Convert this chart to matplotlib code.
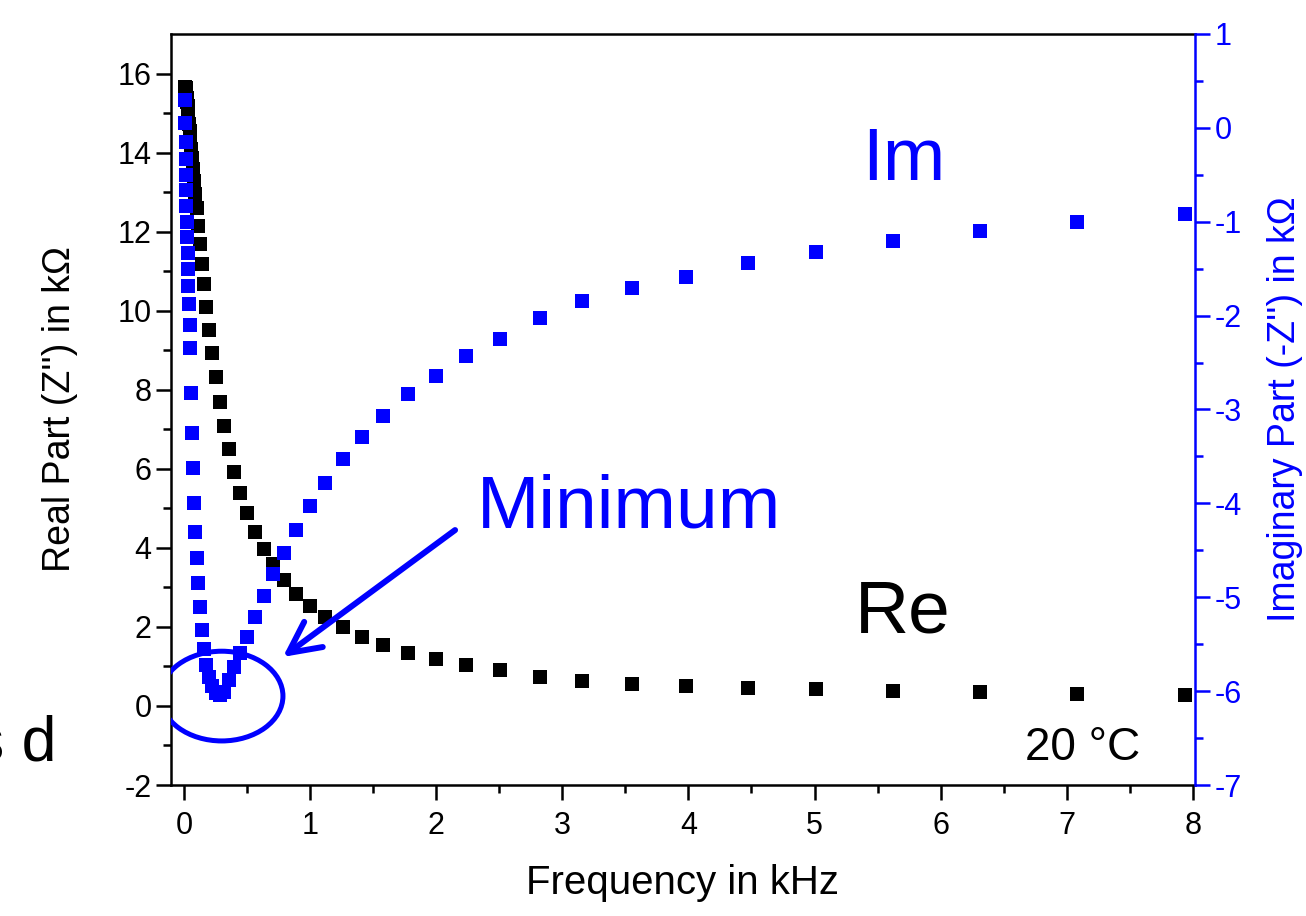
import numpy as np
import matplotlib
matplotlib.use("Agg")
import matplotlib.pyplot as plt
from matplotlib.patches import Ellipse

plt.rcParams['font.family'] = ['Liberation Sans', 'DejaVu Sans']
plt.rcParams['axes.unicode_minus'] = False

BLUE = '#0000FF'

# impedance sweep, 20 points per decade
freq_khz = [0.0100, 0.0112, 0.0126, 0.0141, 0.0158, 0.0178, 0.0200, 0.0224, 0.0251, 0.0282,
            0.0316, 0.0355, 0.0398, 0.0447, 0.0501, 0.0562, 0.0631, 0.0708, 0.0794, 0.0891,
            0.100, 0.112, 0.126, 0.141, 0.158, 0.178, 0.200, 0.224, 0.251, 0.282,
            0.316, 0.355, 0.398, 0.447, 0.501, 0.562, 0.631, 0.708, 0.794, 0.891,
            1.00, 1.12, 1.26, 1.41, 1.58, 1.78, 2.00, 2.24, 2.51, 2.82,
            3.16, 3.55, 3.98, 4.47, 5.01, 5.62, 6.31, 7.08, 7.94]

re_kohm = [15.67, 15.65, 15.63, 15.60, 15.57, 15.52, 15.46, 15.38, 15.29, 15.18,
           15.05, 14.90, 14.73, 14.54, 14.33, 14.10, 13.85, 13.58, 13.28, 12.95,
           12.60, 12.15, 11.68, 11.17, 10.67, 10.09, 9.50, 8.92, 8.31, 7.69,
           7.08, 6.49, 5.92, 5.39, 4.87, 4.39, 3.97, 3.58, 3.19, 2.83,
           2.52, 2.24, 1.99, 1.75, 1.53, 1.35, 1.18, 1.04, 0.91, 0.74,
           0.63, 0.56, 0.51, 0.46, 0.42, 0.38, 0.35, 0.31, 0.28]

im_kohm = [0.30, 0.05, -0.15, -0.33, -0.50, -0.66, -0.83, -1.00, -1.16, -1.33,
           -1.50, -1.68, -1.88, -2.10, -2.35, -2.82, -3.25, -3.62, -4.00, -4.30,
           -4.58, -4.85, -5.10, -5.35, -5.55, -5.72, -5.85, -5.95, -6.02, -6.04,
           -6.01, -5.88, -5.74, -5.59, -5.42, -5.21, -4.99, -4.75, -4.53, -4.28,
           -4.03, -3.78, -3.53, -3.29, -3.07, -2.84, -2.64, -2.43, -2.25, -2.03,
           -1.84, -1.71, -1.59, -1.44, -1.32, -1.21, -1.10, -1.00, -0.92]

fig = plt.figure(figsize=(13.06, 9.16), dpi=100)
ax = fig.add_axes([0.1309, 0.1430, 0.7841, 0.8199])
ax2 = ax.twinx()

ax.plot(freq_khz, re_kohm, 's', color='black', ms=10, mew=0)
ax2.plot(freq_khz, im_kohm, 's', color=BLUE, ms=10, mew=0)

ax.set_xlim(-0.103, 8.017)
ax.set_ylim(-2, 17)
ax2.set_ylim(-7, 1)

ax.set_xticks(np.arange(0, 9, 1))
ax.set_xticks(np.arange(0.5, 8, 1), minor=True)
ax.set_yticks(np.arange(-2, 17, 2))
ax.set_yticks(np.arange(-1, 17, 2), minor=True)
ax2.set_yticks(np.arange(-7, 2, 1))
ax2.set_yticks(np.arange(-6.5, 1, 1), minor=True)

for a in (ax, ax2):
    for s in a.spines.values():
        s.set_linewidth(1.8)
ax.spines['right'].set_visible(False)
ax2.spines['left'].set_visible(False)
ax2.spines['top'].set_visible(False)
ax2.spines['bottom'].set_visible(False)
ax2.spines['right'].set_color(BLUE)

ax.tick_params(axis='both', which='major', direction='out', length=11, width=1.8, labelsize=22)
ax.tick_params(axis='both', which='minor', direction='out', length=5.5, width=1.8)
ax.tick_params(axis='y', pad=3)
ax.tick_params(axis='x', pad=8)
ax2.tick_params(axis='y', which='major', direction='out', length=11, width=1.8,
                labelsize=22, colors=BLUE, pad=3)
ax2.tick_params(axis='y', which='minor', direction='out', length=5.5, width=1.8, colors=BLUE)

ax.set_xlabel('Frequency in kHz', fontsize=29)
ax.xaxis.set_label_coords(0.5, -0.105)
ax.set_ylabel("Real Part (Z'') in k\u03a9", fontsize=27)
ax.yaxis.set_label_coords(-0.091, 0.5)
ax2.set_ylabel("Imaginary Part (-Z'') in k\u03a9", fontsize=27, color=BLUE)
ax2.yaxis.set_label_coords(1.070, 0.5)

# annotations
ax.text(5.38, 13.3, 'Im', color=BLUE, fontsize=54, ha='left', va='baseline')
ax.text(5.32, 1.85, 'Re', color='black', fontsize=54, ha='left', va='baseline')
ax.text(2.32, 4.52, 'Minimum', color=BLUE, fontsize=54, ha='left', va='baseline')
ax.text(6.67, -1.37, '20 \u00b0C', color='black', fontsize=33, ha='left', va='baseline')

ax.add_patch(Ellipse((0.30, 0.25), 0.97, 2.27, fill=False, ec=BLUE, lw=3.6, zorder=5))
ax.annotate('', xy=(0.785, 1.24), xytext=(2.15, 4.45),
            arrowprops=dict(arrowstyle='->,head_length=0.9,head_width=0.45',
                            color=BLUE, lw=4.3, mutation_scale=25,
                            shrinkA=0, shrinkB=0), zorder=6)

# cut-off text at left edge (partly outside the figure, as in the source)
fig.text(0.0436, 0.170, 's d', fontsize=45, ha='right', va='baseline')

fig.savefig('out.png', dpi=100)
